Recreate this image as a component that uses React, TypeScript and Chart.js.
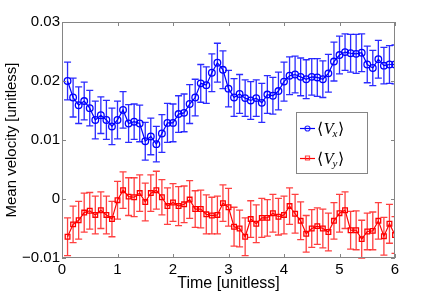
import React, { useEffect, useRef } from 'react';
import { Chart, registerables } from 'chart.js';

Chart.register(...registerables);

const timePoints = [
  0.1, 0.2, 0.3, 0.4, 0.5, 0.6, 0.7, 0.8, 0.9, 1.0,
  1.1, 1.2, 1.3, 1.4, 1.5, 1.6, 1.7, 1.8, 1.9, 2.0,
  2.1, 2.2, 2.3, 2.4, 2.5, 2.6, 2.7, 2.8, 2.9, 3.0,
  3.1, 3.2, 3.3, 3.4, 3.5, 3.6, 3.7, 3.8, 3.9, 4.0,
  4.1, 4.2, 4.3, 4.4, 4.5, 4.6, 4.7, 4.8, 4.9, 5.0,
  5.1, 5.2, 5.3, 5.4, 5.5, 5.6, 5.7, 5.8, 5.9, 6.0,
];

const vxValues = [
  0.0200, 0.0172, 0.0159, 0.0166, 0.0154, 0.0134, 0.0142, 0.0134, 0.0123, 0.0134,
  0.0151, 0.0128, 0.0131, 0.0128, 0.0098, 0.0106, 0.0093, 0.0111, 0.0129, 0.0129,
  0.0144, 0.0146, 0.0161, 0.0172, 0.0196, 0.0193, 0.0214, 0.0231, 0.0219, 0.0187,
  0.0172, 0.0178, 0.0171, 0.0167, 0.0171, 0.0163, 0.0177, 0.0175, 0.0183, 0.0199,
  0.0209, 0.0211, 0.0207, 0.0203, 0.0207, 0.0206, 0.0203, 0.0213, 0.0233, 0.0244,
  0.0249, 0.0247, 0.0246, 0.0248, 0.0228, 0.0222, 0.0237, 0.0226, 0.0228, 0.0228,
];

const vxErrors = [
  0.0032, 0.0033, 0.0031, 0.0032, 0.0030, 0.0032, 0.0031, 0.0033, 0.0031, 0.0032,
  0.0031, 0.0032, 0.0030, 0.0031, 0.0032, 0.0031, 0.0030, 0.0032, 0.0033, 0.0032,
  0.0031, 0.0032, 0.0033, 0.0031, 0.0032, 0.0031, 0.0032, 0.0033, 0.0032, 0.0031,
  0.0032, 0.0033, 0.0031, 0.0032, 0.0031, 0.0033, 0.0032, 0.0031, 0.0032, 0.0033,
  0.0032, 0.0031, 0.0032, 0.0033, 0.0031, 0.0032, 0.0031, 0.0032, 0.0033, 0.0032,
  0.0031, 0.0032, 0.0033, 0.0032, 0.0031, 0.0030, 0.0032, 0.0031, 0.0032, 0.0033,
];

const vyValues = [
  -0.0064, -0.0043, -0.0036, -0.0023, -0.0020, -0.0027, -0.0019, -0.0027, -0.0034, -0.0002,
  0.0015, 0.0004, 0.0003, 0.0010, -0.0005, 0.0010, 0.0015, 0.0003, -0.0012, -0.0006,
  -0.0012, -0.0009, -0.0001, -0.0017, -0.0017, -0.0026, -0.0028, -0.0027, -0.0007, -0.0014,
  -0.0047, -0.0050, -0.0064, -0.0034, -0.0042, -0.0032, -0.0032, -0.0024, -0.0030, -0.0027,
  -0.0012, -0.0025, -0.0037, -0.0059, -0.0050, -0.0046, -0.0050, -0.0056, -0.0037, -0.0024,
  -0.0019, -0.0053, -0.0053, -0.0068, -0.0055, -0.0054, -0.0037, -0.0063, -0.0042, -0.0061,
];

const vyErrors = [
  0.0032, 0.0031, 0.0032, 0.0033, 0.0031, 0.0032, 0.0031, 0.0032, 0.0030, 0.0032,
  0.0031, 0.0032, 0.0033, 0.0031, 0.0032, 0.0031, 0.0032, 0.0030, 0.0031, 0.0032,
  0.0033, 0.0031, 0.0032, 0.0031, 0.0032, 0.0033, 0.0031, 0.0032, 0.0031, 0.0032,
  0.0033, 0.0031, 0.0032, 0.0031, 0.0032, 0.0033, 0.0031, 0.0032, 0.0031, 0.0032,
  0.0031, 0.0033, 0.0032, 0.0031, 0.0032, 0.0031, 0.0033, 0.0032, 0.0031, 0.0032,
  0.0031, 0.0032, 0.0033, 0.0032, 0.0031, 0.0032, 0.0031, 0.0032, 0.0033, 0.0031,
];

const xTickValues = [0, 1, 2, 3, 4, 5, 6];
const yTickValues = [-0.01, 0, 0.01, 0.02, 0.03];
const seriesSymbols = ['V', 'V'];
const seriesSubscripts = ['x', 'y'];
const xTitle = 'Time [unitless]';
const yTitle = 'Mean velocity [unitless]';

const SANS = '"Liberation Sans", Arial, Helvetica, sans-serif';
const SERIF = '"Liberation Serif", "DejaVu Serif", serif';
const BOX_COLOR = '#858585';

function formatY(v: number): string {
  const r = Math.round(v * 100) / 100;
  if (r === 0) return '0';
  const s = Math.abs(r).toFixed(2);
  return r < 0 ? '\u2212' + s : s;
}

const errorBarPlugin = {
  id: 'errorBars',
  beforeDatasetsDraw(chart: any) {
    const { ctx, chartArea, scales } = chart;
    const xs = scales.x;
    const ys = scales.y;
    ctx.save();
    ctx.beginPath();
    ctx.rect(chartArea.left, chartArea.top - 1, chartArea.right - chartArea.left, chartArea.bottom - chartArea.top + 2);
    ctx.clip();
    chart.data.datasets.forEach((ds: any) => {
      ctx.strokeStyle = ds.errorColor;
      ctx.lineWidth = 1.3;
      ds.data.forEach((p: any, i: number) => {
        const e = ds.errors[i];
        const px = xs.getPixelForValue(p.x);
        const yt = ys.getPixelForValue(p.y + e);
        const yb = ys.getPixelForValue(p.y - e);
        const cap = 3.5;
        ctx.beginPath();
        ctx.moveTo(px, yt);
        ctx.lineTo(px, yb);
        ctx.moveTo(px - cap, yt);
        ctx.lineTo(px + cap, yt);
        ctx.moveTo(px - cap, yb);
        ctx.lineTo(px + cap, yb);
        ctx.stroke();
      });
    });
    ctx.restore();
  },
};

const boxPlugin = {
  id: 'matlabBox',
  afterDatasetsDraw(chart: any) {
    const { ctx, chartArea, scales } = chart;
    const { left, right, top, bottom } = chartArea;
    const xs = scales.x;
    const ys = scales.y;
    ctx.save();
    ctx.strokeStyle = BOX_COLOR;
    ctx.lineWidth = 1;
    ctx.strokeRect(Math.round(left) + 0.5, Math.round(top) + 0.5, Math.round(right - left) - 1, Math.round(bottom - top) - 1);
    const tl = 4;
    ctx.beginPath();
    xTickValues.forEach((v) => {
      const px = Math.round(xs.getPixelForValue(v)) + 0.5;
      ctx.moveTo(px, bottom);
      ctx.lineTo(px, bottom - tl);
      ctx.moveTo(px, top);
      ctx.lineTo(px, top + tl);
    });
    yTickValues.forEach((v) => {
      const py = Math.round(ys.getPixelForValue(v)) + 0.5;
      ctx.moveTo(left, py);
      ctx.lineTo(left + tl, py);
      ctx.moveTo(right, py);
      ctx.lineTo(right - tl, py);
    });
    ctx.stroke();
    ctx.restore();
  },
};

const legendPlugin = {
  id: 'mathLegend',
  afterDraw(chart: any) {
    const { ctx } = chart;
    const bx = 296.5;
    const by = 112.5;
    const bw = 71;
    const bh = 61;
    ctx.save();
    ctx.fillStyle = '#ffffff';
    ctx.fillRect(bx, by, bw, bh);
    ctx.strokeStyle = BOX_COLOR;
    ctx.lineWidth = 1;
    ctx.strokeRect(bx, by, bw, bh);
    chart.data.datasets.forEach((ds: any, i: number) => {
      const cy = 128 + i * 30;
      ctx.strokeStyle = ds.borderColor;
      ctx.lineWidth = 1.2;
      ctx.beginPath();
      ctx.moveTo(300, cy + 0.5);
      ctx.lineTo(315, cy + 0.5);
      ctx.stroke();
      ctx.strokeStyle = ds.errorColor;
      ctx.beginPath();
      if (ds.pointStyle === 'rect') {
        ctx.rect(305.5, cy - 2, 4, 4);
      } else {
        ctx.arc(307.5, cy + 0.5, 2.5, 0, Math.PI * 2);
      }
      ctx.stroke();
      ctx.fillStyle = '#000000';
      ctx.textBaseline = 'alphabetic';
      ctx.textAlign = 'left';
      const base = cy + 5.5;
      let tx = 317;
      ctx.font = `16px ${SERIF}`;
      ctx.fillText('\u27E8', tx, base);
      tx += ctx.measureText('\u27E8').width + 0.5;
      ctx.font = `italic 16px ${SERIF}`;
      ctx.fillText(ds.symbol, tx, base);
      tx += ctx.measureText(ds.symbol).width - 1;
      ctx.font = `italic 11px ${SERIF}`;
      ctx.fillText(ds.subscript, tx, base + 3);
      tx += ctx.measureText(ds.subscript).width + 0.5;
      ctx.font = `16px ${SERIF}`;
      ctx.fillText('\u27E9', tx, base);
    });
    ctx.restore();
  },
};

export default function App() {
  const canvasRef = useRef<HTMLCanvasElement | null>(null);

  useEffect(() => {
    const canvas = canvasRef.current;
    if (!canvas) return;
    const chart = new Chart(canvas, {
      type: 'line',
      data: {
        datasets: [
          {
            label: '\u27E8' + seriesSymbols[0] + seriesSubscripts[0] + '\u27E9',
            symbol: seriesSymbols[0],
            subscript: seriesSubscripts[0],
            data: timePoints.map((t, i) => ({ x: t, y: vxValues[i] })),
            errors: vxErrors,
            errorColor: 'rgba(20,20,255,0.9)',
            borderColor: '#0000ff',
            borderWidth: 1.2,
            pointStyle: 'circle',
            pointRadius: 3.3,
            pointBorderWidth: 1.3,
            pointBorderColor: '#0000ff',
            pointBackgroundColor: 'rgba(0,0,0,0)',
            tension: 0,
            fill: false,
          } as any,
          {
            label: '\u27E8' + seriesSymbols[1] + seriesSubscripts[1] + '\u27E9',
            symbol: seriesSymbols[1],
            subscript: seriesSubscripts[1],
            data: timePoints.map((t, i) => ({ x: t, y: vyValues[i] })),
            errors: vyErrors,
            errorColor: 'rgba(255,30,30,0.85)',
            borderColor: '#ff0000',
            borderWidth: 1.2,
            pointStyle: 'rect',
            pointRadius: 3.3,
            pointBorderWidth: 1.3,
            pointBorderColor: '#ff0000',
            pointBackgroundColor: 'rgba(0,0,0,0)',
            tension: 0,
            fill: false,
          } as any,
        ],
      },
      options: {
        responsive: false,
        animation: false,
        devicePixelRatio: 1,
        layout: { padding: { left: 0, right: 41, top: 22, bottom: 0 } },
        plugins: {
          legend: { display: false },
          tooltip: { enabled: false },
        },
        scales: {
          x: {
            type: 'linear',
            min: 0,
            max: 6,
            afterBuildTicks: (s: any) => {
              s.ticks = xTickValues.map((v) => ({ value: v }));
            },
            afterFit: (s: any) => {
              s.height = 35;
            },
            grid: { display: false, drawTicks: false },
            border: { display: false },
            ticks: {
              color: '#000000',
              font: { family: SANS, size: 15 },
              padding: 3,
              maxRotation: 0,
              autoSkip: false,
              callback: (v: any) => String(v),
            },
            title: {
              display: true,
              text: xTitle,
              color: '#000000',
              font: { family: SANS, size: 16 },
              padding: { top: 0, bottom: 0 },
            },
          },
          y: {
            type: 'linear',
            min: -0.01,
            max: 0.03,
            afterBuildTicks: (s: any) => {
              s.ticks = yTickValues.map((v) => ({ value: v }));
            },
            afterFit: (s: any) => {
              s.width = 62;
            },
            grid: { display: false, drawTicks: false },
            border: { display: false },
            ticks: {
              color: '#000000',
              font: { family: SANS, size: 15 },
              padding: 2,
              callback: (v: any) => formatY(Number(v)),
            },
            title: {
              display: true,
              text: yTitle,
              color: '#000000',
              font: { family: SANS, size: 15 },
              padding: { top: 3, bottom: 0 },
            },
          },
        },
      } as any,
      plugins: [errorBarPlugin, boxPlugin, legendPlugin],
    });
    return () => chart.destroy();
  }, []);

  return (
    <div style={{ position: 'fixed', left: 0, top: 0, width: 436, height: 293, background: '#ffffff' }}>
      <canvas ref={canvasRef} width={436} height={293} style={{ display: 'block' }} />
    </div>
  );
}
